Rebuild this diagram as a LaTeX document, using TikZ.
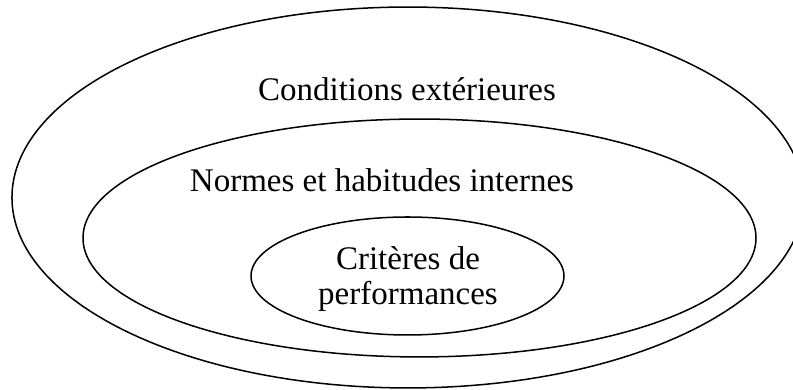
\documentclass[tikz,border=0pt]{standalone}
\usepackage{fontspec}
\setmainfont{Liberation Serif}
\usetikzlibrary{shapes.geometric}
\tikzset{
  ring/.style = {
    draw, ellipse, line width=0.55pt, inner sep=0pt
  },
  label/.style = {
    anchor=base, font=\fontsize{12}{14}\selectfont
  }
}

\begin{document}
\begin{tikzpicture}[x=0.3636pt,y=-0.3636pt]
  \useasboundingbox (0,0) rectangle (793,390);
  \node[ring,minimum width=288pt,minimum height=138.5pt] (outer) at (408,197.5) {};
  \node[ring,minimum width=244.7pt,minimum height=86.5pt] (middle) at (419.5,238) {};
  \node[ring,minimum width=113.8pt,minimum height=42.9pt] (inner) at (407.5,276) {};
  \node[label] (cond) at (407,101) {Conditions extérieures};
  \node[label] (norm) at (382,192) {Normes et habitudes internes};
  \node[label] (crit) at (408,270) {Critères de};
  \node[label] (perf) at (408,305) {performances};
\end{tikzpicture}
\end{document}
